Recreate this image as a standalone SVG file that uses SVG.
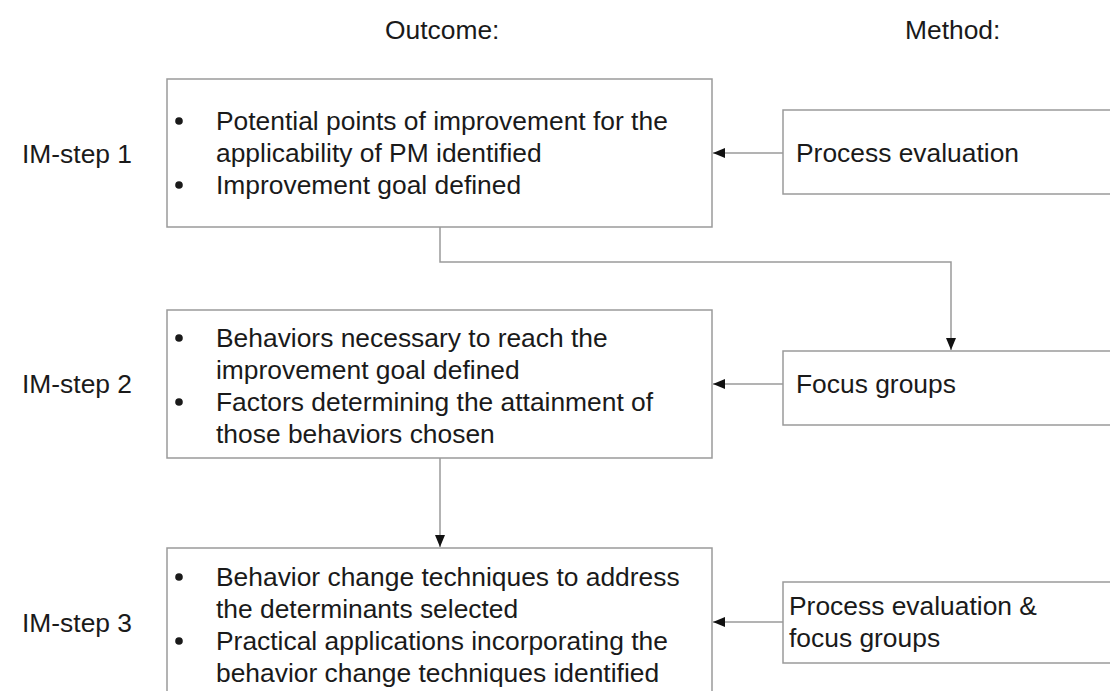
<svg xmlns="http://www.w3.org/2000/svg" width="1110" height="691" viewBox="0 0 1110 691">
  <style>
    text { font-family: "Liberation Sans", Arial, sans-serif; font-size: 26.4px; fill: #1a1a1a; }
    .box { fill: #ffffff; stroke: #9a9a9a; stroke-width: 1.5; }
    .link { fill: none; stroke: #9a9a9a; stroke-width: 1.5; }
    .dot { fill: #1a1a1a; }
  </style>
  <defs>
    <marker id="arrow" viewBox="0 0 12 10" refX="12" refY="5" markerWidth="12" markerHeight="10" markerUnits="userSpaceOnUse" orient="auto">
      <path d="M0,0 L12,5 L0,10 Z" fill="#111"/>
    </marker>
  </defs>
  <rect width="1110" height="691" fill="#ffffff"/>

  <!-- column headers -->
  <g id="headers">
    <text x="385" y="39">Outcome:</text>
    <text x="905" y="39">Method:</text>
  </g>

  <!-- step labels -->
  <g id="step-labels">
    <text x="22" y="163">IM-step 1</text>
    <text x="22" y="393">IM-step 2</text>
    <text x="22" y="632">IM-step 3</text>
  </g>

  <!-- connectors -->
  <g id="connectors">
    <path class="link" d="M440,227 V262 H951 V350" marker-end="url(#arrow)"/>
    <path class="link" d="M440,458 V547" marker-end="url(#arrow)"/>
    <path class="link" d="M783,153 H713" marker-end="url(#arrow)"/>
    <path class="link" d="M783,384 H713" marker-end="url(#arrow)"/>
    <path class="link" d="M783,622 H713" marker-end="url(#arrow)"/>
  </g>

  <!-- outcome step 1 -->
  <g id="outcome-1">
    <rect class="box" x="167" y="79" width="545" height="148"/>
    <circle class="dot" cx="179" cy="121" r="3.8"/>
    <circle class="dot" cx="179" cy="185" r="3.8"/>
    <text x="216" y="130">Potential points of improvement for the</text>
    <text x="216" y="162">applicability of PM identified</text>
    <text x="216" y="194">Improvement goal defined</text>
  </g>

  <!-- method step 1 -->
  <g id="method-1">
    <rect class="box" x="783" y="110" width="340" height="84"/>
    <text x="796" y="162">Process evaluation</text>
  </g>

  <!-- outcome step 2 -->
  <g id="outcome-2">
    <rect class="box" x="167" y="310" width="545" height="148"/>
    <circle class="dot" cx="179" cy="338" r="3.8"/>
    <circle class="dot" cx="179" cy="402" r="3.8"/>
    <text x="216" y="347">Behaviors necessary to reach the</text>
    <text x="216" y="379">improvement goal defined</text>
    <text x="216" y="411">Factors determining the attainment of</text>
    <text x="216" y="443">those behaviors chosen</text>
  </g>

  <!-- method step 2 -->
  <g id="method-2">
    <rect class="box" x="783" y="351" width="340" height="74"/>
    <text x="796" y="393">Focus groups</text>
  </g>

  <!-- outcome step 3 -->
  <g id="outcome-3">
    <rect class="box" x="167" y="548" width="545" height="160"/>
    <circle class="dot" cx="179" cy="577" r="3.8"/>
    <circle class="dot" cx="179" cy="641" r="3.8"/>
    <text x="216" y="586">Behavior change techniques to address</text>
    <text x="216" y="618">the determinants selected</text>
    <text x="216" y="650">Practical applications incorporating the</text>
    <text x="216" y="682">behavior change techniques identified</text>
  </g>

  <!-- method step 3 -->
  <g id="method-3">
    <rect class="box" x="783" y="582" width="340" height="81"/>
    <text x="789" y="615">Process evaluation &amp;</text>
    <text x="789" y="647">focus groups</text>
  </g>
</svg>
